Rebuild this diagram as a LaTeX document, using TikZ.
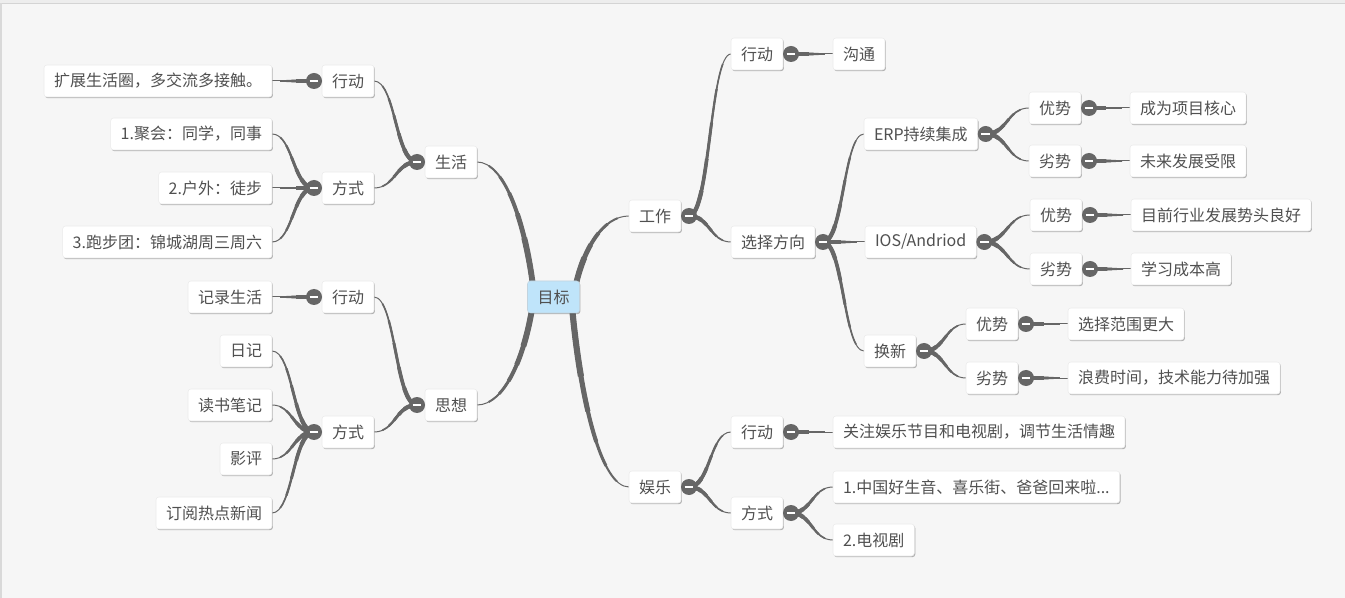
\documentclass[tikz,border=0pt]{standalone}
\usepackage{fontspec}
\setmainfont{Noto Sans CJK SC}
\usetikzlibrary{calc,shadows}
\definecolor{bgc}{RGB}{246,246,246}
\definecolor{txt}{RGB}{80,80,80}
\definecolor{lnk}{RGB}{102,102,102}
\definecolor{rootc}{RGB}{191,228,250}
\pgfdeclarelayer{back}
\pgfdeclarelayer{links}
\pgfsetlayers{back,links,main}
\newcommand\lat[1]{#1}
% tapered cubic: #1 start, #2 c1, #3 c2, #4 end, #5 start width (pt)
\newcommand\taper[5]{%
  \foreach \t in {1,0.85,0.7,0.55,0.4,0.25}{%
    \pgfmathsetmacro\w{0.75+(#5-0.75)*(1-\t)/0.75}%
    \coordinate (tA) at ($(#1)!\t!(#2)$);
    \coordinate (tB) at ($(#2)!\t!(#3)$);
    \coordinate (tC) at ($(#3)!\t!(#4)$);
    \coordinate (tD) at ($(tA)!\t!(tB)$);
    \coordinate (tE) at ($(tB)!\t!(tC)$);
    \coordinate (tF) at ($(tD)!\t!(tE)$);
    \draw[lnk,line width=\w pt] (#1) .. controls (tA) and (tD) .. (tF);
  }}
\newcommand\link[3]{%
  \coordinate (lm) at ($(#1)!0.5!(#2)$);
  \coordinate (lca) at (lm |- #1);
  \coordinate (lcb) at (lm |- #2);
  \taper{#1}{lca}{lcb}{#2}{#3}}
\newcommand\rlink[3]{%
  \coordinate (qa) at ($(#1)!0.15!(#2)$);
  \coordinate (qb) at ($(#1)!0.5!(#2)$);
  \coordinate (lca) at (qa |- qb);
  \coordinate (lcb) at (qb |- #2);
  \taper{#1}{lca}{lcb}{#2}{#3}}
\tikzset{
  box/.style={rectangle, rounded corners=2.2pt, fill=white, draw=black!8, line width=0.4pt,
    minimum height=24pt, inner xsep=7.5pt, inner ysep=0pt, outer sep=0pt, text=txt,
    font=\fontsize{12pt}{14pt}\selectfont,
    drop shadow={shadow xshift=0.7pt, shadow yshift=-0.9pt, opacity=0.28, fill=black}},
  rootbox/.style={box, fill=rootc, draw=rootc!80!black!60},
  R/.style={anchor=west},
  L/.style={anchor=east},
  btn/.style={circle, fill=lnk, minimum size=12pt, inner sep=0pt, outer sep=0pt,
    path picture={\draw[white,line width=1.8pt] ([xshift=-3.2pt]path picture bounding box.center) -- ([xshift=3.2pt]path picture bounding box.center);}}
}
\begin{document}
\begin{tikzpicture}[x=0.75pt,y=-0.75pt]
\useasboundingbox (0,0) rectangle (1345,598);
\begin{pgfonlayer}{back}
  \fill[bgc] (0,0) rectangle (1345,598);
  \fill[black!7] (0,0) rectangle (1345,3);
  \draw[black!17,line width=0.8pt] (0,3.5) -- (1345,3.5);
  \draw[black!15,line width=0.8pt] (1,3.5) -- (1,598);
\end{pgfonlayer}

% root
\node[rootbox, anchor=center] (root) at (553.5,297) {目标};

% right: 工作
\node[box,R] (wk) at (629,216) {工作};
\node[box,R] (wkxd) at (731,54) {行动};
\node[box,R] (gt) at (833,54) {沟通};
\node[box,R] (xz) at (731,242) {选择方向};
\node[box,R] (erp) at (864,134) {\lat{ERP}持续集成};
\node[box,R] (erpys) at (1029,108) {优势};
\node[box,R] (erpysc) at (1130,108) {成为项目核心};
\node[box,R] (erpls) at (1029,161) {劣势};
\node[box,R] (erplsc) at (1130,161) {未来发展受限};
\node[box,R] (ios) at (865,242) {\vphantom{目}\lat{IOS/Andriod}};
\node[box,R] (iosys) at (1030,215) {优势};
\node[box,R] (iosysc) at (1131,215) {目前行业发展势头良好};
\node[box,R] (iosls) at (1030,269) {劣势};
\node[box,R] (ioslsc) at (1131,269) {学习成本高};
\node[box,R] (hx) at (864,351) {换新};
\node[box,R] (hxys) at (966,324) {优势};
\node[box,R] (hxysc) at (1068,324) {选择范围更大};
\node[box,R] (hxls) at (966,378) {劣势};
\node[box,R] (hxlsc) at (1068,378) {浪费时间，技术能力待加强};
% right: 娱乐
\node[box,R] (yl) at (629,487) {娱乐};
\node[box,R] (ylxd) at (731,432) {行动};
\node[box,R] (ylxdc) at (833,432) {关注娱乐节目和电视剧，调节生活情趣};
\node[box,R] (ylfs) at (731,513) {方式};
\node[box,R] (ylfsa) at (833,487) {\lat{1.}中国好生音、喜乐街、爸爸回来啦\lat{...}};
\node[box,R] (ylfsb) at (833,540) {\lat{2.}电视剧};

% left: 生活
\node[box,L] (sh) at (477,162) {生活};
\node[box,L] (shxd) at (374,81) {行动};
\node[box,L] (shxdc) at (272,81) {扩展生活圈，多交流多接触。};
\node[box,L] (shfs) at (374,188) {方式};
\node[box,L] (shfsa) at (272,134) {\lat{1.}聚会：同学，同事};
\node[box,L] (shfsb) at (272,188) {\lat{2.}户外：徒步};
\node[box,L] (shfsc) at (272,242) {\lat{3.}跑步团：锦城湖周三周六};
% left: 思想
\node[box,L] (sx) at (477,405) {思想};
\node[box,L] (sxxd) at (374,297) {行动};
\node[box,L] (sxxdc) at (272,297) {记录生活};
\node[box,L] (sxfs) at (374,432) {方式};
\node[box,L] (sxfsa) at (272,351) {日记};
\node[box,L] (sxfsb) at (272,405) {读书笔记};
\node[box,L] (sxfsc) at (272,459) {影评};
\node[box,L] (sxfsd) at (272,513) {订阅热点新闻};

% buttons
\foreach \n in {wk,wkxd,xz,erp,erpys,erpls,ios,iosys,iosls,hx,hxys,hxls,yl,ylxd,ylfs}{
  \node[btn] (b\n) at ($(\n.east)+(8,0)$) {};
}
\foreach \n in {sh,shxd,shfs,sx,sxxd,sxfs}{
  \node[btn] (b\n) at ($(\n.west)+(-8,0)$) {};
}

\begin{pgfonlayer}{links}
  % root branches
  \coordinate (rTR) at ($(root.north east)+(-3,1)$);
  \coordinate (rBR) at ($(root.south east)+(-7,-1)$);
  \coordinate (rTL) at ($(root.north west)+(5,1)$);
  \coordinate (rBL) at ($(root.south west)+(4,-1)$);
  \rlink{rTR}{wk.west}{4.4}
  \rlink{rBR}{yl.west}{4.6}
  \rlink{rTL}{sh.east}{4.4}
  \rlink{rBL}{sx.east}{4.4}
  % right side
  \link{bwk.center}{wkxd.west}{3.2}
  \link{bwk.center}{xz.west}{3.2}
  \link{bwkxd.center}{gt.west}{3.2}
  \link{bxz.center}{erp.west}{3.2}
  \link{bxz.center}{ios.west}{3.2}
  \link{bxz.center}{hx.west}{3.2}
  \link{berp.center}{erpys.west}{3.2}
  \link{berp.center}{erpls.west}{3.2}
  \link{berpys.center}{erpysc.west}{3.2}
  \link{berpls.center}{erplsc.west}{3.2}
  \link{bios.center}{iosys.west}{3.2}
  \link{bios.center}{iosls.west}{3.2}
  \link{biosys.center}{iosysc.west}{3.2}
  \link{biosls.center}{ioslsc.west}{3.2}
  \link{bhx.center}{hxys.west}{3.2}
  \link{bhx.center}{hxls.west}{3.2}
  \link{bhxys.center}{hxysc.west}{3.2}
  \link{bhxls.center}{hxlsc.west}{3.2}
  \link{byl.center}{ylxd.west}{3.2}
  \link{byl.center}{ylfs.west}{3.2}
  \link{bylxd.center}{ylxdc.west}{3.2}
  \link{bylfs.center}{ylfsa.west}{3.2}
  \link{bylfs.center}{ylfsb.west}{3.2}
  % left side
  \link{bsh.center}{shxd.east}{3.2}
  \link{bsh.center}{shfs.east}{3.2}
  \link{bshxd.center}{shxdc.east}{3.2}
  \link{bshfs.center}{shfsa.east}{3.2}
  \link{bshfs.center}{shfsb.east}{3.2}
  \link{bshfs.center}{shfsc.east}{3.2}
  \link{bsx.center}{sxxd.east}{3.2}
  \link{bsx.center}{sxfs.east}{3.2}
  \link{bsxxd.center}{sxxdc.east}{3.2}
  \link{bsxfs.center}{sxfsa.east}{3.2}
  \link{bsxfs.center}{sxfsb.east}{3.2}
  \link{bsxfs.center}{sxfsc.east}{3.2}
  \link{bsxfs.center}{sxfsd.east}{3.2}
\end{pgfonlayer}
\end{tikzpicture}
\end{document}
